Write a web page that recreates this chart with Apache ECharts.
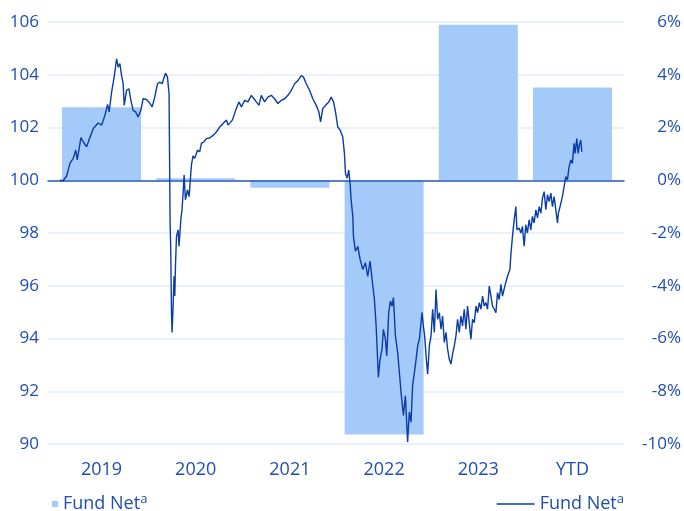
<!DOCTYPE html>
<html><head><meta charset="utf-8">
<script src="https://cdn.jsdelivr.net/npm/echarts@6/dist/echarts.min.js"></script>
<style>html,body{margin:0;padding:0;background:#fff}#c{width:684px;height:511px}</style>
</head><body><div id="c"></div>
<script>
// Calendar-year returns (%), right axis
const categories = ['2019', '2020', '2021', '2022', '2023', 'YTD'];
const yearReturns = [2.77, 0.08, -0.28, -9.64, 5.90, 3.52];

// Rebased NAV (start = 100), left axis; dates as decimal years
const navDates = [
  2019.000, 2019.032, 2019.071, 2019.106, 2019.141, 2019.167, 2019.184, 2019.223, 2019.247, 2019.283,
  2019.318, 2019.354, 2019.407, 2019.443, 2019.478, 2019.506, 2019.523, 2019.549, 2019.576, 2019.602,
  2019.619, 2019.637, 2019.655, 2019.672, 2019.683, 2019.708, 2019.733, 2019.754, 2019.778, 2019.804,
  2019.831, 2019.860, 2019.884, 2019.920, 2019.945, 2019.980, 2020.008, 2020.037, 2020.062, 2020.086,
  2020.122, 2020.143, 2020.160, 2020.165, 2020.171, 2020.178, 2020.186, 2020.192, 2020.203, 2020.213,
  2020.221, 2020.228, 2020.239, 2020.256, 2020.266, 2020.285, 2020.298, 2020.309, 2020.320, 2020.334,
  2020.356, 2020.373, 2020.398, 2020.415, 2020.433, 2020.462, 2020.486, 2020.504, 2020.532, 2020.557,
  2020.592, 2020.627, 2020.663, 2020.699, 2020.734, 2020.770, 2020.787, 2020.805, 2020.833, 2020.868,
  2020.903, 2020.929, 2020.964, 2020.999, 2021.035, 2021.063, 2021.088, 2021.116, 2021.141, 2021.176,
  2021.211, 2021.247, 2021.282, 2021.317, 2021.354, 2021.389, 2021.424, 2021.460, 2021.495, 2021.530,
  2021.566, 2021.590, 2021.619, 2021.654, 2021.689, 2021.725, 2021.753, 2021.771, 2021.795, 2021.824,
  2021.859, 2021.884, 2021.909, 2021.930, 2021.954, 2021.980, 2022.007, 2022.025, 2022.036, 2022.054,
  2022.071, 2022.086, 2022.096, 2022.114, 2022.121, 2022.142, 2022.167, 2022.192, 2022.220, 2022.248,
  2022.273, 2022.298, 2022.319, 2022.344, 2022.362, 2022.386, 2022.404, 2022.425, 2022.439, 2022.461,
  2022.475, 2022.496, 2022.514, 2022.532, 2022.546, 2022.567, 2022.591, 2022.609, 2022.627, 2022.652,
  2022.673, 2022.697, 2022.715, 2022.733, 2022.750, 2022.779, 2022.804,
  2022.822, 2022.850, 2022.864, 2022.878, 2022.893, 2022.910, 2022.928, 2022.946, 2022.963, 2022.981,
  2022.999, 2023.016, 2023.034, 2023.052, 2023.069, 2023.087, 2023.105, 2023.122, 2023.140, 2023.158,
  2023.175, 2023.193, 2023.211, 2023.228, 2023.246, 2023.264, 2023.281, 2023.299, 2023.317, 2023.334,
  2023.352, 2023.370, 2023.387, 2023.406, 2023.424, 2023.441, 2023.459, 2023.477, 2023.494, 2023.512,
  2023.530, 2023.547, 2023.565, 2023.583, 2023.600, 2023.618, 2023.636, 2023.653, 2023.671, 2023.689,
  2023.706, 2023.735, 2023.759, 2023.785, 2023.795, 2023.812, 2023.830, 2023.848, 2023.859, 2023.883,
  2023.901, 2023.918, 2023.936, 2023.954, 2023.971, 2023.989, 2024.007, 2024.024, 2024.042, 2024.061,
  2024.078, 2024.096, 2024.114, 2024.131, 2024.149, 2024.167, 2024.184, 2024.202, 2024.220, 2024.237,
  2024.255, 2024.273, 2024.290, 2024.300, 2024.318, 2024.343, 2024.361, 2024.379, 2024.396, 2024.414,
  2024.432, 2024.449, 2024.467, 2024.478, 2024.496, 2024.510, 2024.523, 2024.538, 2024.549
];
const navValues = [
  100.00, 99.98, 100.16, 100.64, 100.83, 101.14, 100.77, 101.62, 101.46, 101.27,
  101.62, 101.96, 102.17, 102.09, 102.46, 102.88, 102.59, 103.34, 103.91, 104.60,
  104.29, 104.42, 103.97, 103.66, 102.84, 103.41, 103.47, 103.03, 102.65, 102.59,
  102.40, 102.65, 103.09, 103.06, 102.97, 102.78, 103.15, 103.66, 103.72, 103.66,
  104.06, 103.91, 103.28, 101.00, 98.38, 97.37, 94.98, 94.23, 95.23, 96.36,
  95.61, 96.74, 97.87, 98.12, 97.49, 98.50, 98.88, 99.51, 100.20, 99.26,
  99.63, 99.38, 100.58, 100.92, 100.83, 101.14, 101.08, 101.40, 101.46, 101.58,
  101.60, 101.70, 101.83, 102.02, 102.15, 102.28, 102.09, 102.02, 102.28, 102.65,
  102.97, 102.78, 103.03, 102.97, 103.22, 103.09, 102.97, 102.84, 103.22, 102.97,
  103.15, 103.22, 103.09, 102.91, 103.03, 103.09, 103.22, 103.41, 103.66, 103.78,
  103.97, 103.91, 103.66, 103.41, 103.09, 102.84, 102.59, 102.21, 102.72, 102.84,
  102.97, 103.15, 102.97, 102.59, 102.02, 101.90, 101.65, 101.02, 100.26, 100.08,
  100.39, 99.85, 99.26, 98.63, 97.87, 97.31, 97.49, 96.99, 96.62, 96.87,
  96.36, 96.93, 96.24, 95.48, 94.48, 92.53, 93.22, 93.60, 94.35, 93.97,
  93.34, 94.98, 95.42, 95.23, 95.55, 94.10, 93.47, 92.72, 91.96, 91.08,
  91.83, 90.08, 91.21, 90.83, 92.21, 92.97, 93.72,
  93.97, 94.98, 94.48, 94.10, 93.34, 92.65, 93.72, 94.10, 95.11, 94.23,
  95.86, 94.73, 94.98, 94.35, 94.85, 93.85, 94.23, 93.60, 93.22, 93.03,
  93.41, 93.72, 94.10, 94.73, 94.23, 94.85, 94.48, 95.11, 94.35, 95.23,
  94.60, 93.97, 94.73, 94.60, 95.23, 94.98, 95.36, 95.11, 95.61, 95.23,
  95.36, 95.11, 95.99, 95.61, 95.23, 95.11, 94.98, 95.74, 95.48, 96.05,
  95.61, 96.05, 96.36, 96.62, 97.18, 97.87, 98.50, 99.00, 98.12, 98.19,
  98.00, 98.25, 97.50, 98.31, 98.00, 98.50, 98.12, 98.63, 98.38, 98.88,
  98.57, 99.00, 98.75, 99.32, 99.57, 98.88, 99.45, 99.19, 99.51, 99.00,
  99.38, 98.88, 98.38, 98.75, 99.00, 99.38, 99.76, 100.14, 100.01, 100.51,
  100.77, 100.64, 101.40, 101.02, 101.58, 101.02, 101.33, 101.52, 101.08
];

const FONT = 'Open Sans';
const TXT = '#1f4db3';
const BAR_C = '#a4cafa';
const LINE_C = '#0a3ca8';
const GRID_C = '#e3edfc';

const linePoints = navDates.map((d, i) => [d, navValues[i]]);
const legendFmt = () => 'Fund Net{s|a}';
const legendRich = { s: { fontSize: 13, fontFamily: FONT, color: TXT, padding: [0, 0, 9, 0] } };

const chart = echarts.init(document.getElementById('c'), null, { renderer: 'canvas' });
chart.setOption({
  animation: false,
  backgroundColor: '#ffffff',
  textStyle: { fontFamily: FONT },
  grid: [
    { left: 48, right: 59, top: 22, bottom: 67 },
    { left: 54.4, right: 64.4, top: 22, bottom: 67 }
  ],
  legend: [
    {
      data: ['Fund Net'], left: 52, top: 493, padding: 0, icon: 'rect', itemWidth: 6, itemHeight: 6,
      formatter: legendFmt,
      textStyle: { fontFamily: FONT, fontSize: 18, color: TXT, rich: legendRich }
    },
    {
      data: ['Fund Net '], right: 60, top: 493, padding: 0, icon: 'rect', itemWidth: 38, itemHeight: 1.3,
      formatter: legendFmt,
      textStyle: { fontFamily: FONT, fontSize: 18, color: TXT, rich: legendRich }
    }
  ],
  xAxis: [
    {
      gridIndex: 0, type: 'value', min: 2018.8726, max: 2024.998, z: 3,
      axisLabel: { show: false }, axisTick: { show: false }, splitLine: { show: false },
      axisLine: { show: true, onZero: true, onZeroAxisIndex: 1, lineStyle: { color: '#2b58bd', width: 1.5 } }
    },
    {
      gridIndex: 1, type: 'category', data: categories,
      axisLine: { show: false }, axisTick: { show: false }, splitLine: { show: false },
      axisLabel: { fontFamily: FONT, fontSize: 18, color: TXT, margin: 17 }
    }
  ],
  yAxis: [
    {
      gridIndex: 0, type: 'value', position: 'left', min: 90, max: 106, interval: 2,
      axisLine: { show: false }, axisTick: { show: false },
      axisLabel: { fontFamily: FONT, fontSize: 17, color: TXT, margin: 9 },
      splitLine: { show: true, lineStyle: { color: GRID_C, width: 1.5 } }
    },
    {
      gridIndex: 0, type: 'value', position: 'right', min: -10, max: 6, interval: 2,
      axisLine: { show: false }, axisTick: { show: false },
      axisLabel: { fontFamily: FONT, fontSize: 17, color: TXT, margin: 57, align: 'right', formatter: '{value}%' },
      splitLine: { show: false }
    },
    {
      gridIndex: 1, type: 'value', min: -10, max: 6, interval: 2, show: false,
      splitLine: { show: false }
    }
  ],
  series: [
    {
      name: 'Fund Net', type: 'bar', xAxisIndex: 1, yAxisIndex: 2,
      data: yearReturns, barWidth: 79, z: 2,
      itemStyle: { color: BAR_C }
    },
    {
      name: 'Fund Net ', type: 'line', xAxisIndex: 0, yAxisIndex: 0,
      data: linePoints, symbol: 'none', z: 5,
      lineStyle: { color: LINE_C, width: 1.4 }, itemStyle: { color: LINE_C }
    }
  ]
});
</script></body></html>
